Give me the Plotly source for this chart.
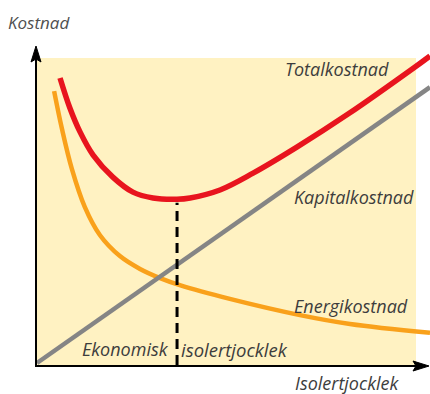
import plotly.graph_objects as go

# Data (x = isolation thickness, y = cost, arbitrary units 0-100)
total_x = [6.1, 8.6, 11.2, 14.5, 19.5, 24.6, 29.7, 35.8, 39.1, 46.7,
           55.1, 66.2, 79.2, 96.2, 100.0]
total_y = [93.8, 84.0, 76.1, 68.6, 61.4, 56.5, 54.6, 54.2, 54.6, 57.2,
           62.7, 71.2, 82.0, 97.4, 101.0]

energy_x = [4.6, 6.6, 9.1, 12.4, 16.2, 21.3, 26.4, 31.5, 36.5, 49.2, 67.0, 79.7, 100.0]
energy_y = [89.5, 77.1, 64.1, 51.6, 42.5, 35.6, 31.4, 28.4, 26.1, 21.6, 16.3, 13.4, 10.5]

capital_x = [0.25, 100.0]
capital_y = [0.65, 90.8]

optimum_x = 35.8
optimum_y = 53.0

# pixel -> data helpers (axis origin at pixel 36, 365)
X0, SX = 36, 3.94
Y0, SY = 365, 3.06


def dx(p):
    return (p - X0) / SX


def dy(p):
    return (Y0 - p) / SY


W, H = 430, 394
FONT = "Open Sans"
TXT = "#3d3d3d"

fig = go.Figure()
fig.add_trace(go.Scatter(x=energy_x, y=energy_y, mode='lines', line_shape='spline',
                         line=dict(color='#f9a11b', width=4.5), name='Energikostnad'))
fig.add_trace(go.Scatter(x=capital_x, y=capital_y, mode='lines',
                         line=dict(color='#858585', width=4.5), name='Kapitalkostnad'))
fig.add_trace(go.Scatter(x=total_x, y=total_y, mode='lines', line_shape='spline',
                         line=dict(color='#e8141e', width=5.5), name='Totalkostnad'))
fig.add_trace(go.Scatter(x=[optimum_x, optimum_x], y=[0, optimum_y], mode='lines',
                         line=dict(color='black', width=3, dash='10px,6px'),
                         name='Ekonomisk isolertjocklek'))

shapes = [
    # yellow background
    dict(type='rect', x0=dx(36), x1=dx(416), y0=dy(365), y1=dy(58),
         fillcolor='#fff2c2', line_width=0, layer='below'),
    # axes
    dict(type='line', x0=dx(36), x1=dx(36), y0=dy(366), y1=dy(55),
         line=dict(color='black', width=2)),
    dict(type='line', x0=dx(35), x1=dx(420), y0=dy(366), y1=dy(366),
         line=dict(color='black', width=2)),
    # arrow heads
    dict(type='path', path=f"M {dx(36)},{dy(46)} L {dx(31)},{dy(62)} L {dx(36)},{dy(59)} L {dx(41)},{dy(62)} Z",
         fillcolor='black', line=dict(color='black', width=1)),
    dict(type='path', path=f"M {dx(429)},{dy(366)} L {dx(413)},{dy(361)} L {dx(416)},{dy(366)} L {dx(413)},{dy(371)} Z",
         fillcolor='black', line=dict(color='black', width=1)),
]


def label(text, px, py, anchor='left', size=18, color=TXT):
    return dict(text=text, x=dx(px), y=dy(py), xref='x', yref='y', showarrow=False,
                xanchor=anchor, yanchor='middle',
                font=dict(family=FONT, size=size, color=color, style='italic'))


annotations = [
    label('Kostnad', 6, 22, size=17, color='#505050'),
    label('Totalkostnad', 283, 69),
    label('Kapitalkostnad', 292, 197),
    label('Energikostnad', 292, 306),
    label('Ekonomisk', 171, 349, anchor='right'),
    label('isolertjocklek', 179, 349, size=18.5),
    label('Isolertjocklek', 293, 383),
]

fig.update_layout(
    width=W, height=H,
    margin=dict(l=0, r=0, t=0, b=0),
    paper_bgcolor='white', plot_bgcolor='white',
    showlegend=False,
    shapes=shapes,
    annotations=annotations,
    xaxis=dict(range=[dx(0), dx(W)], visible=False, fixedrange=True),
    yaxis=dict(range=[dy(H), dy(0)], visible=False, fixedrange=True),
)

fig.write_html("out.html", config=dict(displayModeBar=False),
               post_script="document.body.style.margin='0px';")
